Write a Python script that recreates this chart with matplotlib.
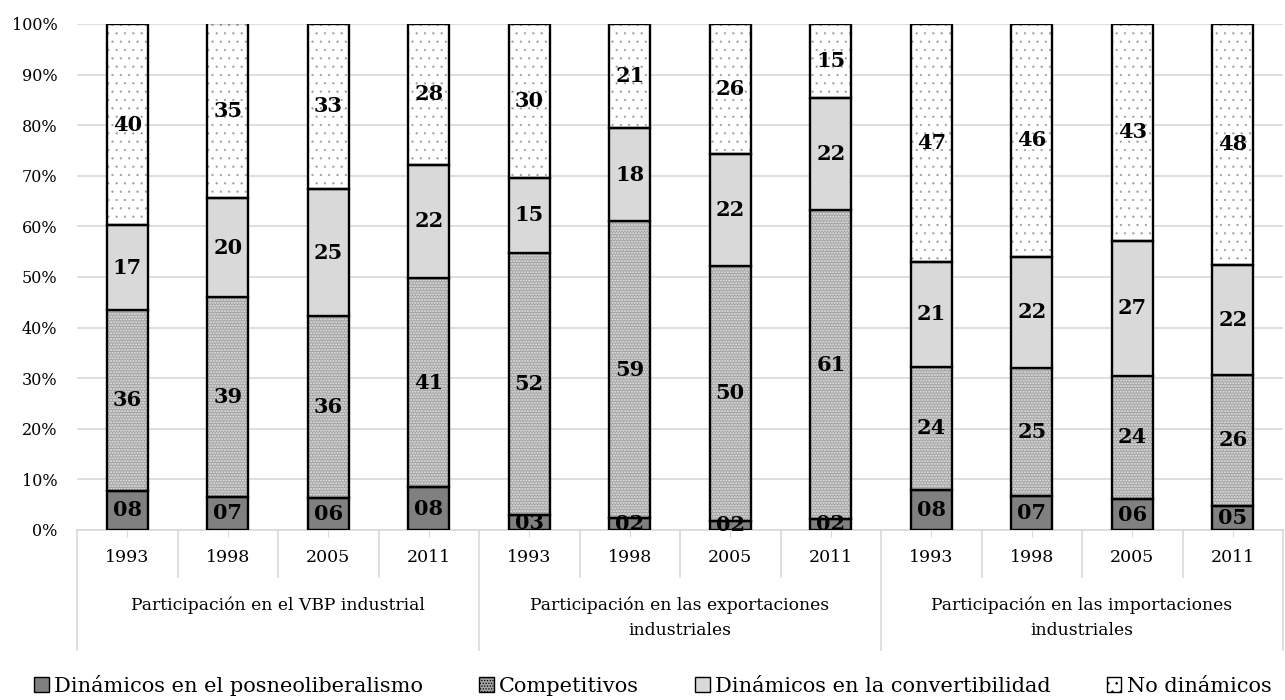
import matplotlib
matplotlib.use('Agg')
import matplotlib.pyplot as plt
from matplotlib.patches import Patch
import matplotlib.transforms as mtransforms

plt.rcParams['font.family'] = ['DejaVu Serif']

# ---- data (shares in %) ----
years = ['1993', '1998', '2005', '2011'] * 3
groups = ['Participación en el VBP industrial',
          'Participación en las exportaciones\nindustriales',
          'Participación en las importaciones\nindustriales']
series_names = ['Dinámicos en el posneoliberalismo', 'Competitivos',
                'Dinámicos en la convertibilidad', 'No dinámicos']

dinamicos_posneo = [7.8, 6.6, 6.4, 8.4, 2.9, 2.3, 1.8, 2.2, 7.9, 6.8, 6.1, 4.8]
competitivos = [35.7, 39.4, 35.8, 41.4, 51.9, 58.7, 50.4, 61.0, 24.4, 25.3, 24.4, 25.8]
dinamicos_conv = [16.7, 19.6, 25.2, 22.4, 14.8, 18.4, 22.2, 22.1, 20.7, 21.9, 26.7, 21.8]
no_dinamicos = [39.8, 34.6, 32.6, 27.8, 30.4, 20.6, 25.6, 14.7, 47.0, 46.0, 42.8, 47.6]

series = [dinamicos_posneo, competitivos, dinamicos_conv, no_dinamicos]
faces = ['#808080', '#a4a4a4', '#d9d9d9', '#ffffff']
hatches = [None, '......', None, '..']
hatch_cols = [None, '#e6e6e6', None, '#9a9a9a']
hatch_lws = [1.0, 1.0, 1.0, 0.35]

fig = plt.figure(figsize=(12.85, 7.0), dpi=100)
ax = fig.add_axes([77 / 1285, 1 - 530 / 700, (1283 - 77) / 1285, (530 - 24) / 700])

x = list(range(len(years)))
width = 0.41
bottom = [0.0] * len(x)
for vals, fc, h, hc, hlw in zip(series, faces, hatches, hatch_cols, hatch_lws):
    plt.rcParams['hatch.linewidth'] = hlw
    if h:
        ax.bar(x, vals, width, bottom=bottom, color=fc, hatch=h,
               edgecolor=hc, linewidth=0, zorder=2)
        ax.bar(x, vals, width, bottom=bottom, fill=False,
               edgecolor='black', linewidth=1.7, zorder=3)
    else:
        ax.bar(x, vals, width, bottom=bottom, color=fc,
               edgecolor='black', linewidth=1.7, zorder=3)
    for xi, v, b in zip(x, vals, bottom):
        ax.text(xi, b + v / 2, f'{v:02.0f}', ha='center', va='center',
                fontsize=15, fontweight='bold', color='black', zorder=5)
    bottom = [b + v for b, v in zip(bottom, vals)]

ax.set_xlim(-0.5, len(x) - 0.5)
ax.set_ylim(0, 100)
ax.set_yticks(range(0, 101, 10))
ax.set_yticklabels([f'{t}%' for t in range(0, 101, 10)])
ax.yaxis.grid(True, color='#d9d9d9', linewidth=1.2, zorder=0)
ax.set_axisbelow(True)
ax.tick_params(axis='y', length=0, labelsize=11.5, pad=14)
ax.set_xticks(x)
ax.set_xticklabels(years)
ax.tick_params(axis='x', length=5, color='#d9d9d9', labelsize=12.5, pad=9)
for s in ['top', 'right', 'left']:
    ax.spines[s].set_visible(False)
ax.spines['bottom'].set_color('#d9d9d9')
ax.spines['bottom'].set_linewidth(1.2)

# multi-level category separators
trans = mtransforms.blended_transform_factory(ax.transData, ax.transAxes)
px = 1 / (530 - 24)
for b in [0.5, 1.5, 2.5, 4.5, 5.5, 6.5, 8.5, 9.5, 10.5]:
    ax.plot([b, b], [0, -47 * px], color='#d9d9d9', lw=1.2,
            transform=trans, clip_on=False)
for b in [-0.5, 3.5, 7.5, 11.5]:
    ax.plot([b, b], [0, -120 * px], color='#d9d9d9', lw=1.2,
            transform=trans, clip_on=False)
for i, g in enumerate(groups):
    ax.text(4 * i + 1.5, -67 * px, g, transform=trans, ha='center', va='top',
            fontsize=12.3, linespacing=1.6)

handles = []
for name, fc, h in zip(series_names, faces, hatches):
    handles.append(Patch(facecolor=fc, edgecolor='black', hatch=h, label=name,
                         linewidth=1.0))
plt.rcParams['hatch.linewidth'] = 0.6
fig.legend(handles=handles, loc='center', bbox_to_anchor=(0.508, 1 - 685 / 700),
           ncol=4, frameon=False, fontsize=15, handlelength=0.7,
           handleheight=0.7, handletextpad=0.25, columnspacing=2.7)

fig.savefig('out.png', dpi=100)
